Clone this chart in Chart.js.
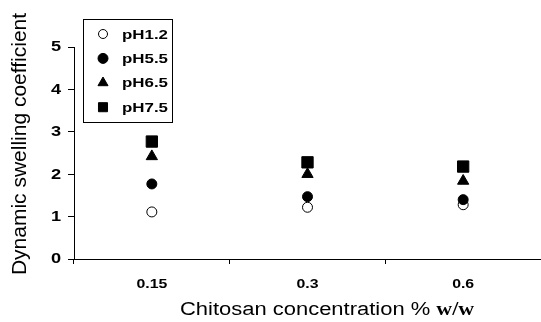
<!DOCTYPE html>
<html>
<head>
<meta charset="utf-8">
<script src="https://cdn.jsdelivr.net/npm/chart.js@4"></script>
<style>
  html, body { margin: 0; padding: 0; background: #fff; }
  #wrap { width: 541px; height: 322px; position: relative; }
</style>
</head>
<body>
<div id="wrap"><canvas id="swellChart" width="541" height="322"></canvas></div>
<script>
// Chitosan concentrations (% w/w)
const concentrations = ['0.15', '0.3', '0.6'];

// Dynamic swelling coefficient at each pH
const pH12 = [1.11, 1.22, 1.28];
const pH55 = [1.77, 1.47, 1.40];
const pH65 = [2.42, 2.00, 1.84];
const pH75 = [2.77, 2.28, 2.18];

const yTicks = [0, 1, 2, 3, 4, 5];

const SANS = '"Liberation Sans", Arial, sans-serif';
const SERIF = '"Liberation Serif", "Times New Roman", serif';

// the original figure has its text a little wider than normal
function stretchedText(ctx, text, x, y, sx, align) {
    ctx.save();
    ctx.translate(x, y);
    ctx.scale(sx, 1);
    ctx.textAlign = align || 'left';
    ctx.fillText(text, 0, 0);
    ctx.restore();
}

/**
 * Tick labels for both axes
 */
const axisLabels = {
    id: 'axisLabels',
    afterDraw(chart) {
        const ctx = chart.ctx;
        const xs = chart.scales.x;
        const ys = chart.scales.y;
        ctx.save();
        ctx.fillStyle = '#000';
        ctx.textBaseline = 'middle';
        ctx.font = 'bold 14px ' + SANS;
        yTicks.forEach(v => {
            stretchedText(ctx, String(v), 61, ys.getPixelForValue(v) + 0.5, 1.3, 'right');
        });
        ctx.font = 'bold 13px ' + SANS;
        concentrations.forEach((c, i) => {
            stretchedText(ctx, c, xs.getPixelForValue(i), 284, 1.22, 'center');
        });
        ctx.restore();
    }
};

/**
 * Legend box drawn inside the plot area, top-left
 */
const legendMarks = [
    { r: 4.5 }, { r: 5 }, { r: 5.8 }, { r: 6.4 }
];

const boxLegend = {
    id: 'boxLegend',
    afterDraw(chart) {
        const ctx = chart.ctx;
        const x0 = 83.5, y0 = 19.5, w = 89, h = 103;
        ctx.save();
        ctx.fillStyle = '#fff';
        ctx.fillRect(x0, y0, w, h);
        ctx.strokeStyle = '#000';
        ctx.lineWidth = 1;
        ctx.strokeRect(x0, y0, w, h);
        ctx.font = 'bold 13px ' + SANS;
        ctx.textBaseline = 'middle';
        chart.data.datasets.forEach((ds, i) => {
            const y = 34 + i * 24.4;
            ctx.fillStyle = ds.pointBackgroundColor;
            ctx.strokeStyle = '#000';
            ctx.lineWidth = 1;
            Chart.helpers.drawPoint(ctx, {
                pointStyle: ds.pointStyle,
                radius: legendMarks[i].r,
                borderWidth: 1
            }, 103, y);
            ctx.fillStyle = '#000';
            stretchedText(ctx, ds.label, 122, y + 1, 1.3, 'left');
        });
        ctx.restore();
    }
};

/**
 * Axis titles: y rotated, x with a bold serif "w/w"
 */
const axisTitles = {
    id: 'axisTitles',
    afterDraw(chart) {
        const ctx = chart.ctx;
        ctx.save();
        ctx.fillStyle = '#000';

        // y title
        ctx.font = '21px ' + SANS;
        ctx.textBaseline = 'alphabetic';
        ctx.textAlign = 'center';
        ctx.translate(26, 144);
        ctx.rotate(-Math.PI / 2);
        ctx.fillText('Dynamic swelling coefficient', 0, 0);
        ctx.setTransform(1, 0, 0, 1, 0, 0);

        // x title
        const part1 = 'Chitosan concentration % ';
        const part2 = 'w/w';
        const sx = 1.22;
        ctx.font = '18px ' + SANS;
        const w1 = ctx.measureText(part1).width * sx;
        ctx.textAlign = 'left';
        const startX = 180;
        const baseY = 315;
        stretchedText(ctx, part1, startX, baseY, sx, 'left');
        ctx.font = 'bold 18px ' + SERIF;
        stretchedText(ctx, part2, startX + w1, baseY, sx, 'left');
        ctx.restore();
    }
};

const ctx = document.getElementById('swellChart');

new Chart(ctx, {
    type: 'line',
    data: {
        labels: concentrations,
        datasets: [{
            label: 'pH1.2',
            data: pH12,
            pointStyle: 'circle',
            pointRadius: 5,
            pointBackgroundColor: '#ffffff',
            order: 4
        }, {
            label: 'pH5.5',
            data: pH55,
            pointStyle: 'circle',
            pointRadius: 5,
            pointBackgroundColor: '#000000',
            order: 3
        }, {
            label: 'pH6.5',
            data: pH65,
            pointStyle: 'triangle',
            pointRadius: 6.5,
            pointBackgroundColor: '#000000',
            order: 2
        }, {
            label: 'pH7.5',
            data: pH75,
            pointStyle: 'rect',
            pointRadius: 8,
            pointBackgroundColor: '#000000',
            order: 1
        }].map(ds => Object.assign({
            showLine: false,
            borderColor: '#000000',
            pointBorderColor: '#000000',
            pointBorderWidth: 1,
            pointHoverRadius: ds.pointRadius
        }, ds))
    },
    options: {
        responsive: false,
        animation: false,
        events: [],
        layout: {
            autoPadding: false,
            padding: { left: 0, right: 0, top: 47, bottom: 0 }
        },
        plugins: {
            legend: { display: false },
            tooltip: { enabled: false }
        },
        scales: {
            x: {
                type: 'category',
                offset: true,
                grid: {
                    offset: true,
                    drawOnChartArea: false,
                    drawTicks: true,
                    tickLength: 5,
                    color: '#000'
                },
                border: { display: true, color: '#000', width: 1 },
                ticks: { display: false },
                afterFit(scale) { scale.height = 63; }
            },
            y: {
                min: 0,
                max: 5,
                afterBuildTicks(scale) {
                    scale.ticks = yTicks.map(v => ({ value: v }));
                },
                grid: {
                    drawOnChartArea: false,
                    drawTicks: true,
                    tickLength: 6,
                    color: '#000'
                },
                border: { display: true, color: '#000', width: 1 },
                ticks: { display: false },
                afterFit(scale) { scale.width = 74; }
            }
        }
    },
    plugins: [axisLabels, boxLegend, axisTitles]
});
</script>
</body>
</html>
